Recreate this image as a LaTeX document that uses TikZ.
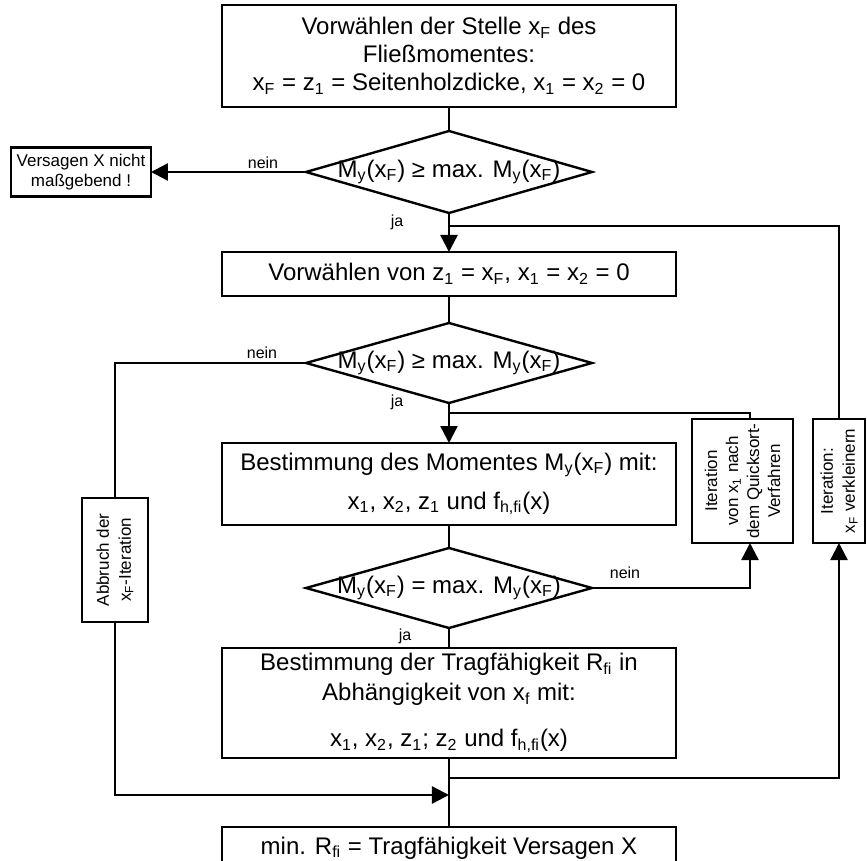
\documentclass[tikz,border=0pt]{standalone}
\usepackage{fontspec}
\setmainfont{Liberation Sans}
\usetikzlibrary{positioning}
\usetikzlibrary{shapes.geometric}
\usetikzlibrary{arrows.meta}

\tikzset{
  box/.style={draw, rectangle, minimum width=227pt, inner sep=2pt, outer sep=0pt,
    align=center, font=\fontsize{12}{14}\selectfont},
  decision/.style={draw, diamond, minimum width=143pt, inner sep=0pt, outer sep=0pt},
  dtext/.style={inner sep=0pt, font=\fontsize{12}{14}\selectfont},
  sidebox/.style={draw, rectangle, inner sep=1pt, outer sep=0pt, align=center,
    font=\fontsize{8.5}{10.5}\selectfont},
  lbl/.style={inner sep=0pt, font=\fontsize{8}{9}\selectfont},
  pfeil/.style={-{Triangle[length=8.5pt,width=8.5pt]}}
}

\begin{document}
\begin{tikzpicture}[x=1pt,y=1pt,line width=1.2pt]
  \useasboundingbox (-224.5,28) rectangle (209,-402.5);

  % Nodes
  \node[box, minimum height=51pt] (stelle) at (0,0)
    {Vorwählen der Stelle x\textsubscript{F} des\\Fließmomentes:\\x\textsubscript{F} = z\textsubscript{1} = Seitenholzdicke, x\textsubscript{1} = x\textsubscript{2} = 0};
  \node[decision, minimum height=41pt, below=12pt of stelle] (check1) {};
  \node[dtext] (check1t) at (check1)
    {M\textsubscript{y}(x\textsubscript{F}) ≥ max. M\textsubscript{y}(x\textsubscript{F})};
  \node[box, minimum height=22pt, below=19.5pt of check1] (vorwahl)
    {Vorwählen von z\textsubscript{1} = x\textsubscript{F}, x\textsubscript{1} = x\textsubscript{2} = 0};
  \node[decision, minimum height=40pt, below=13.5pt of vorwahl] (check2) {};
  \node[dtext] (check2t) at (check2)
    {M\textsubscript{y}(x\textsubscript{F}) ≥ max. M\textsubscript{y}(x\textsubscript{F})};
  \node[box, minimum height=41pt, below=20pt of check2] (moment)
    {Bestimmung des Momentes M\textsubscript{y}(x\textsubscript{F}) mit:\\[5.5pt]x\textsubscript{1}, x\textsubscript{2}, z\textsubscript{1} und f\textsubscript{h,fi}(x)};
  \node[decision, minimum height=40pt, below=11.5pt of moment] (check3) {};
  \node[dtext] (check3t) at (check3)
    {M\textsubscript{y}(x\textsubscript{F}) = max. M\textsubscript{y}(x\textsubscript{F})};
  \node[box, minimum height=55pt, below=10pt of check3] (tragf)
    {Bestimmung der Tragfähigkeit R\textsubscript{fi} in\\[1pt]Abhängigkeit von x\textsubscript{f} mit:\\[9pt]x\textsubscript{1}, x\textsubscript{2}, z\textsubscript{1}; z\textsubscript{2} und f\textsubscript{h,fi}(x)};
  \node[box, minimum height=21pt, below=34.5pt of tragf] (ergebnis)
    {min. R\textsubscript{fi} = Tragfähigkeit Versagen X};

  % side boxes
  \node[sidebox, minimum width=70pt, minimum height=24.5pt, font=\fontsize{8.5}{10}\selectfont,
    left=77.5pt of check1] (versagen) {Versagen X nicht\\maßgebend !};
  \node[sidebox, rotate=90, minimum width=62pt, minimum height=33pt,
    font=\fontsize{8.5}{11}\selectfont] (abbruch) at (-167,-252)
    {Abbruch der\\x\textsubscript{F}-Iteration};
  \node[sidebox, rotate=90, minimum width=62pt, minimum height=50.5pt] (quicksort) at (146.75,-212.5)
    {Iteration\\von x\textsubscript{1} nach\\dem Quicksort-\\Verfahren};
  \node[sidebox, rotate=90, minimum width=62pt, minimum height=26pt,
    font=\fontsize{8.5}{11}\selectfont] (verkl) at (195,-212.5)
    {Iteration:\\x\textsubscript{F} verkleinern};

  % branch labels
  \node[lbl] (nein1) at (-93,-53.5) {nein};
  \node[lbl] (ja1) at (-26,-83) {ja};
  \node[lbl] (nein2) at (-93.5,-148.5) {nein};
  \node[lbl] (ja2) at (-26,-173) {ja};
  \node[lbl] (nein3) at (88,-258.5) {nein};
  \node[lbl] (ja3) at (-22,-290) {ja};

  % junctions on the main line
  \coordinate[below=6.5pt of check1] (j1);
  \coordinate[below=5pt of check2] (j2);
  \coordinate[below=10pt of tragf] (j3);
  \coordinate[below=18.5pt of tragf] (j4);

  % Edges
  \draw (stelle.south) -- (check1.north);
  \draw[pfeil] (check1.west) -- (versagen.east);
  \draw[pfeil] (check1.south) -- (vorwahl.north);
  \draw (vorwahl.south) -- (check2.north);
  \draw (check2.west) -| (abbruch.east);
  \draw[pfeil] (check2.south) -- (moment.north);
  \draw (moment.south) -- (check3.north);
  \draw[pfeil] (check3.east) -| ([xshift=3.75pt]quicksort.west);
  \draw (check3.south) -- (tragf.north);
  \draw (tragf.south) -- (ergebnis.north);

  % loops back
  \draw ([xshift=3.75pt]quicksort.east) |- (j2);
  \draw (verkl.east) |- (j1);
  \draw[pfeil] (j3) -| (verkl.west);
  \draw[pfeil] (abbruch.west) |- (j4);
\end{tikzpicture}
\end{document}
